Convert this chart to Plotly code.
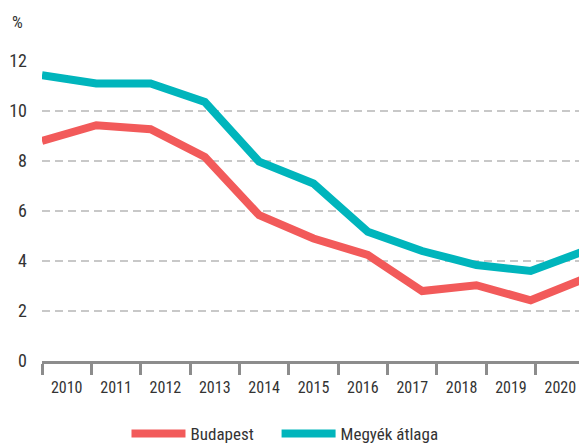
import plotly.graph_objects as go

years = ["2010", "2011", "2012", "2013", "2014", "2015", "2016", "2017", "2018", "2019", "2020"]
budapest = [8.8, 9.43, 9.27, 8.16, 5.83, 4.9, 4.24, 2.8, 3.03, 2.43, 3.3]
megyek = [11.43, 11.1, 11.1, 10.36, 7.97, 7.1, 5.17, 4.4, 3.84, 3.6, 4.41]
y_ticks = [0, 2, 4, 6, 8, 10, 12]

RED = "#F25A5A"
TEAL = "#00B5BC"
FONT = "Roboto Condensed, Liberation Sans Narrow, sans-serif"
TXT = "#333333"

idx = list(range(len(years)))

fig = go.Figure()
fig.add_trace(go.Scatter(x=idx, y=budapest, name="Budapest", mode="lines",
                         line=dict(color=RED, width=8), legend="legend"))
fig.add_trace(go.Scatter(x=idx, y=megyek, name="Megyék átlaga", mode="lines",
                         line=dict(color=TEAL, width=8), legend="legend2"))
# helper (empty) traces so the overlay axes exist
fig.add_trace(go.Scatter(x=[], y=[], xaxis="x2", showlegend=False, hoverinfo="skip"))
fig.add_trace(go.Scatter(x=[], y=[], xaxis="x3", showlegend=False, hoverinfo="skip"))

n = len(years)
leg_style = dict(orientation="h", xanchor="left", y=-0.243, yanchor="middle",
                 font=dict(size=17, color=TXT), itemwidth=54)
# page body has an 8px default margin, so the figure is sized to 579x438
fig.update_layout(
    width=579, height=438,
    margin=dict(l=34, r=2, t=53, b=85, autoexpand=False),
    plot_bgcolor="white", paper_bgcolor="white",
    font=dict(family=FONT, color=TXT, size=16),
    showlegend=True,
    legend=dict(x=0.1556, **leg_style),
    legend2=dict(x=0.432, **leg_style),
    xaxis=dict(range=[0, n - 1], showgrid=False, showticklabels=False, ticks="",
               zeroline=False, showline=False, automargin=False),
    xaxis2=dict(overlaying="x", anchor="y", side="bottom", range=[0, n],
                tickvals=list(range(n + 1)), showticklabels=False,
                ticks="outside", ticklen=11, tickwidth=3, tickcolor="#8c8c8c",
                showline=True, linecolor="#8c8c8c", linewidth=3,
                showgrid=False, zeroline=False, automargin=False),
    xaxis3=dict(overlaying="x", anchor="y", side="bottom", range=[0, n],
                tickvals=[i + 0.5 for i in range(n)], ticktext=years,
                ticks="", showline=False, showgrid=False, zeroline=False,
                tickfont=dict(size=16, color=TXT), ticklabelstandoff=15,
                automargin=False),
    yaxis=dict(range=[0, 12], tickvals=y_ticks, showgrid=True, gridcolor="#c8c8c8",
               gridwidth=1.5, griddash="8px,5px", zeroline=False, showline=False,
               ticks="", tickfont=dict(size=18, color=TXT), ticklabelstandoff=14,
               automargin=False),
    annotations=[dict(text="%", xref="paper", yref="paper", x=-0.031, y=1.13,
                      xanchor="right", yanchor="middle", showarrow=False,
                      font=dict(size=17, color=TXT))],
)

fig.write_html("out.html")
